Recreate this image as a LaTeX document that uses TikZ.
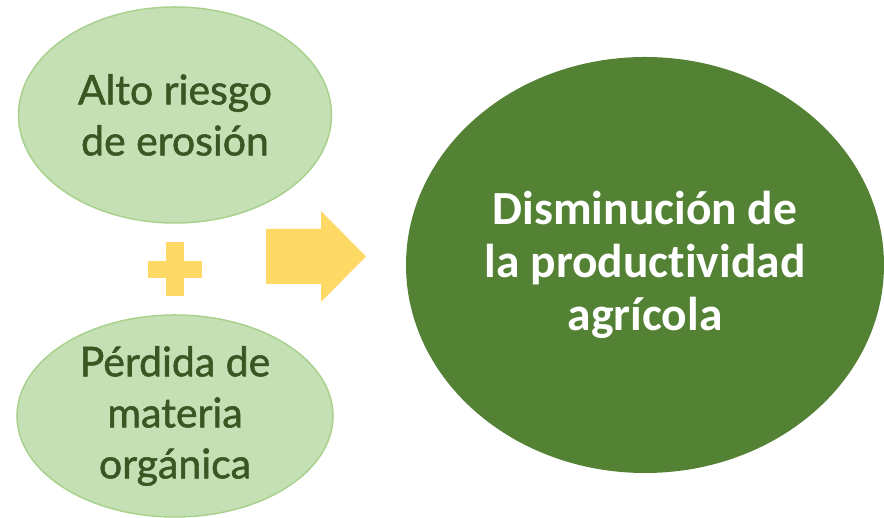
\documentclass[tikz,border=0pt]{standalone}
\usepackage{fontspec}
\setmainfont{Carlito}[Ligatures=CommonOff]
\newfontfamily\causefont{Lato}[FakeBold=1.3]
\usetikzlibrary{shapes.geometric}
\definecolor{leafpale}{HTML}{C5E0B4}
\definecolor{leafedge}{HTML}{A9D18E}
\definecolor{leafdark}{HTML}{385723}
\definecolor{leafdeep}{HTML}{548235}
\definecolor{sunny}{HTML}{FFD966}
\tikzset{
  cause/.style={ellipse, fill=leafpale, draw=leafedge, line width=1.5pt,
    inner sep=0pt, align=center, text=leafdark,
    font=\causefont\fontsize{41}{51}\selectfont},
  effect/.style={ellipse, fill=leafdeep, inner sep=0pt, align=center,
    text=white, font=\bfseries\fontsize{47.5}{53}\selectfont,
    minimum width=478pt, minimum height=416pt},
  sign/.style={fill=sunny}
}

\begin{document}
\begin{tikzpicture}[x=1pt,y=1pt]
\useasboundingbox (0,0) rectangle (884,518);
\coordinate (T) at (175,403);
\coordinate (B) at (175,102);
\coordinate (E) at (645,253);
\coordinate (P) at (175,248.5);

\node[cause, minimum width=313pt, minimum height=216pt] (erosion) at (T)
  {Alto riesgo\\de erosión};
\node[cause, minimum width=316pt, minimum height=202pt] (materia) at (B)
  {Pérdida de\\materia\\orgánica};
\node[effect] (merma) at (E)
  {Disminución de\\la productividad\\agrícola};

% plus sign
\fill[sign] ([shift={(-27,-8.5)}]P) rectangle ([shift={(27,8.5)}]P);
\fill[sign] ([shift={(-9,-27)}]P) rectangle ([shift={(9,27)}]P);

% block arrow
\coordinate (A1) at (266,234);
\coordinate (A2) at (321,234);
\coordinate (A3) at (321,216);
\coordinate (A4) at (366,261.5);
\coordinate (A5) at (321,307);
\coordinate (A6) at (321,289);
\coordinate (A7) at (266,289);
\fill[sign] (A1) -- (A2) -- (A3) -- (A4) -- (A5) -- (A6) -- (A7) -- cycle;
\end{tikzpicture}
\end{document}
